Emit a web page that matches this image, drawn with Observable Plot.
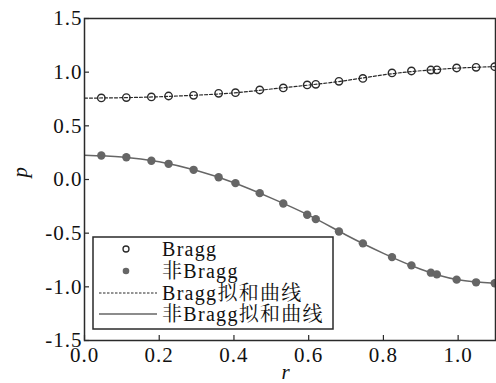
<!DOCTYPE html>
<html>
<head>
<meta charset="utf-8">
<script src="https://cdn.jsdelivr.net/npm/d3@7"></script>
<script src="https://cdn.jsdelivr.net/npm/@observablehq/plot@0.6"></script>
<style>
  html, body { margin: 0; padding: 0; background: #fff; }
  #chart { position: relative; width: 496px; height: 383px; overflow: hidden; }
</style>
</head>
<body>
<div id="chart"></div>
<script>
// ---- data ----
const rValues = [0.045, 0.112, 0.179, 0.225, 0.292, 0.359, 0.404, 0.469, 0.532, 0.596, 0.619, 0.681, 0.745, 0.823, 0.875, 0.927, 0.943, 0.996, 1.048, 1.098];
const braggP = [0.760, 0.763, 0.769, 0.778, 0.784, 0.803, 0.809, 0.834, 0.853, 0.881, 0.887, 0.915, 0.942, 0.993, 1.011, 1.020, 1.022, 1.039, 1.045, 1.051];
const nonBraggP = [0.223, 0.207, 0.174, 0.146, 0.090, 0.021, -0.034, -0.127, -0.223, -0.328, -0.369, -0.484, -0.595, -0.723, -0.800, -0.868, -0.884, -0.933, -0.958, -0.967];

const fitR = [0, 0.1, 0.2, 0.3, 0.4, 0.5, 0.6, 0.7, 0.8, 0.9, 1.0, 1.1];
const braggFit = [0.758, 0.762, 0.771, 0.786, 0.807, 0.843, 0.880, 0.922, 0.975, 1.013, 1.038, 1.052];
const nonBraggFit = [0.226, 0.210, 0.165, 0.083, -0.030, -0.173, -0.332, -0.517, -0.688, -0.836, -0.935, -0.968];

const xTicks = [0, 0.2, 0.4, 0.6, 0.8, 1.0];
const xTickLabels = ["0.0", "0.2", "0.4", "0.6", "0.8", "1.0"];
const yTicks = [-1.5, -1.0, -0.5, 0, 0.5, 1.0, 1.5];
const yTickLabels = ["-1.5", "-1.0", "-0.5", "0.0", "0.5", "1.0", "1.5"];

const legendLabels = ["Bragg", "非Bragg", "Bragg拟和曲线", "非Bragg拟和曲线"];
const xLabel = "r";
const yLabel = "p";

// ---- tables ----
const points = rValues.map((r, i) => ({r, bragg: braggP[i], non: nonBraggP[i]}));
const fits = fitR.map((r, i) => ({r, bragg: braggFit[i], non: nonBraggFit[i]}));

const FONT = "Liberation Serif, Noto Serif CJK SC, serif";
const DARK = "#2a2a2a";
const GRAY = "#666";

const chart = Plot.plot({
  width: 496,
  height: 383,
  marginLeft: 84,
  marginRight: 1,
  marginTop: 18,
  marginBottom: 43,
  style: {fontFamily: FONT, fontSize: "21px", background: "#fff", color: "#111", overflow: "visible"},
  x: {domain: [0, 1.1]},
  y: {domain: [-1.5, 1.5]},
  marks: [
    Plot.line(fits, {x: "r", y: "non", stroke: GRAY, strokeWidth: 1.5, curve: "natural", clip: true}),
    Plot.line(fits, {x: "r", y: "bragg", stroke: DARK, strokeWidth: 1.2, strokeDasharray: "3,2", curve: "natural", clip: true}),
    Plot.dot(points, {x: "r", y: "non", r: 4.2, fill: GRAY, stroke: "none", clip: true}),
    Plot.dot(points, {x: "r", y: "bragg", r: 3.7, fill: "none", stroke: DARK, strokeWidth: 1.4, clip: true}),
    // inward ticks (shifted into the frame)
    Plot.axisX(xTicks, {anchor: "bottom", tickSize: 5, dy: -5, tickFormat: () => "", stroke: DARK, strokeWidth: 1.2, label: null}),
    Plot.axisY(yTicks, {anchor: "left", tickSize: 5, dx: 5, tickFormat: () => "", stroke: DARK, strokeWidth: 1.2, label: null}),
    // tick labels
    Plot.axisX(xTicks, {anchor: "bottom", tickSize: 0, tickPadding: 7, tickFormat: (d) => xTickLabels[xTicks.indexOf(d)], fontSize: 21, fontFamily: FONT, fill: "#111", label: null}),
    Plot.axisY(yTicks, {anchor: "left", tickSize: 0, tickPadding: 2, tickFormat: (d) => yTickLabels[yTicks.indexOf(d)], fontSize: 21, fontFamily: FONT, fill: "#111", label: null}),
    Plot.frame({stroke: DARK, strokeWidth: 1.5}),
    Plot.text([xLabel], {frameAnchor: "bottom", dx: -4, dy: 38, fontStyle: "italic", fontSize: 21, fontFamily: FONT, fill: "#111", lineAnchor: "bottom"}),
    Plot.text([yLabel], {frameAnchor: "left", dx: -64, dy: -2, rotate: -90, fontStyle: "italic", fontSize: 21, fontFamily: FONT, fill: "#111"})
  ]
});

chart.setAttribute("font-family", FONT);
chart.style.letterSpacing = "1px";
document.getElementById("chart").appendChild(chart);

// ---- legend drawn inside the svg ----
const svg = d3.select(chart);
const lg = svg.append("g").attr("class", "legend").attr("transform", "translate(93,237)")
  .attr("font-family", FONT);
lg.append("rect").attr("x", 0).attr("y", 0).attr("width", 240).attr("height", 92)
  .attr("fill", "#fff").attr("stroke", DARK).attr("stroke-width", 1.5);
const rowY = [12, 34, 56, 77];
const symX = 33;
lg.append("circle").attr("cx", symX).attr("cy", rowY[0]).attr("r", 3).attr("fill", "none").attr("stroke", DARK).attr("stroke-width", 1.3);
lg.append("circle").attr("cx", symX).attr("cy", rowY[1]).attr("r", 3.3).attr("fill", GRAY);
lg.append("line").attr("x1", 6).attr("x2", 64).attr("y1", rowY[2]).attr("y2", rowY[2])
  .attr("stroke", DARK).attr("stroke-width", 1.1).attr("stroke-dasharray", "2.5,1.5");
lg.append("line").attr("x1", 6).attr("x2", 64).attr("y1", rowY[3]).attr("y2", rowY[3])
  .attr("stroke", GRAY).attr("stroke-width", 1.4);
legendLabels.forEach((t, i) => {
  lg.append("text").attr("x", 69).attr("y", rowY[i]).attr("dy", "0.35em")
    .attr("text-anchor", "start")
    .attr("font-size", 20).attr("fill", "#111").attr("letter-spacing", "1.3px")
    .attr("font-family", FONT).text(t);
});
</script>
</body>
</html>
